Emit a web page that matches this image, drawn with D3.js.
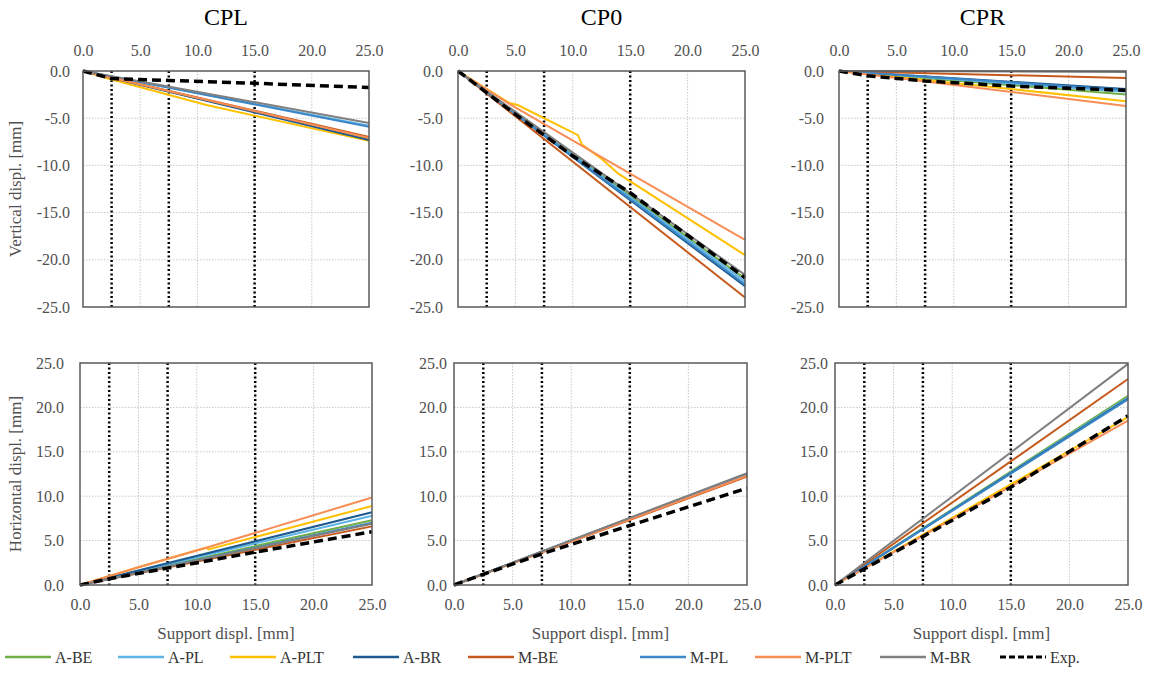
<!DOCTYPE html>
<html>
<head>
<meta charset="utf-8">
<script src="https://cdn.jsdelivr.net/npm/d3@7"></script>
<style>
  body { margin: 0; background: #fff; }
  text { font-family: "Liberation Serif", "Times New Roman", serif; }
</style>
</head>
<body>
<svg id="chart" width="1152" height="696"></svg>
<script>
// legend order, also drawing order
const seriesNames = ["A-BE", "A-PL", "A-PLT", "A-BR", "M-BE", "M-PL", "M-PLT", "M-BR", "Exp."];
const seriesColors = ["#70ad47", "#5cb3e6", "#ffc000", "#1f5a8f", "#c55a1c", "#3b87c8", "#f88d55", "#7f7f7f", "#000000"];

const panelTitles = ["CPL", "CP0", "CPR"];
const xTicks = [0, 5, 10, 15, 20, 25];
const vertTicks = [0, -5, -10, -15, -20, -25];
const horTicks = [0, 5, 10, 15, 20, 25];
const stageLines = [2.5, 7.5, 15];

// [support displ, displ] per series, legend order
const cplVertical = [
  [[0, 0], [25, -7.2]],
  [[0, 0], [25, -5.8]],
  [[0, 0], [2.5, -0.9], [10.8, -3.6], [25, -7.4]],
  [[0, 0], [25, -7.3]],
  [[0, 0], [25, -7.0]],
  [[0, 0], [25, -5.9]],
  [[0, 0], [25, -7.1]],
  [[0, 0], [25, -5.5]],
  [[0, 0], [2.5, -0.8], [7.5, -1.0], [15, -1.3], [25, -1.75]]
];
const cp0Vertical = [
  [[0, 0], [25, -22.0]],
  [[0, 0], [25, -22.3]],
  [[0, 0], [4.5, -3.4], [5.2, -3.6], [10.45, -6.8], [10.8, -7.8], [12.4, -9.2], [14, -10.9], [25, -19.5]],
  [[0, 0], [25, -22.8]],
  [[0, 0], [25, -24.0]],
  [[0, 0], [25, -22.6]],
  [[0, 0], [4.5, -3.5], [25, -17.9]],
  [[0, 0], [25, -21.6]],
  [[0, 0], [5, -4.6], [10, -9.0], [15, -12.9], [20, -17.4], [25, -21.9]]
];
const cprVertical = [
  [[0, 0], [25, -2.5]],
  [[0, 0], [25, -2.2]],
  [[0, 0], [25, -3.2]],
  [[0, 0], [25, -1.9]],
  [[0, 0], [25, -0.75]],
  [[0, 0], [25, -2.0]],
  [[0, 0], [25, -3.7]],
  [[0, 0], [25, -0.1]],
  [[0, 0], [2.5, -0.5], [7.5, -1.05], [15, -1.6], [25, -2.05]]
];
const cplHorizontal = [
  [[0, 0], [25, 7.3]],
  [[0, 0], [25, 7.8]],
  [[0, 0], [5, 2.0], [10.8, 4.2], [11, 4.0], [25, 8.9]],
  [[0, 0], [25, 8.2]],
  [[0, 0], [25, 6.6]],
  [[0, 0], [25, 7.0]],
  [[0, 0], [5, 2.0], [10.8, 4.2], [25, 9.85]],
  [[0, 0], [25, 6.9]],
  [[0, 0], [2.5, 0.7], [7.5, 1.9], [15, 3.7], [25, 6.0]]
];
const cp0Horizontal = [
  [[0, 0], [25, 12.4]],
  [[0, 0], [25, 12.5]],
  [[0, 0], [25, 12.4]],
  [[0, 0], [25, 12.5]],
  [[0, 0], [25, 12.2]],
  [[0, 0], [25, 12.5]],
  [[0, 0], [25, 12.3]],
  [[0, 0], [25, 12.6]],
  [[0, 0], [2.5, 1.2], [7.5, 3.5], [15, 6.7], [25, 10.9]]
];
const cprHorizontal = [
  [[0, 0], [25, 21.3]],
  [[0, 0], [25, 21.1]],
  [[0, 0], [25, 18.9]],
  [[0, 0], [25, 21.0]],
  [[0, 0], [25, 23.2]],
  [[0, 0], [25, 20.9]],
  [[0, 0], [25, 18.5]],
  [[0, 0], [25, 24.9]],
  [[0, 0], [7.5, 5.45], [15, 11.0], [25, 19.05]]
];

const svg = d3.select("#chart");
const textColor = "#505050";
const fmt = d => d.toFixed(1);

const panels = [
  {data: cplVertical, col: 0, top: true, x0: 83, x1: 369, y0: 71, y1: 307, pad: 13},
  {data: cp0Vertical, col: 1, top: true, x0: 458, x1: 745, y0: 71, y1: 307, pad: 15},
  {data: cprVertical, col: 2, top: true, x0: 839, x1: 1126, y0: 71, y1: 307, pad: 15},
  {data: cplHorizontal, col: 0, top: false, x0: 80, x1: 372, y0: 363, y1: 585, pad: 16},
  {data: cp0Horizontal, col: 1, top: false, x0: 454, x1: 747, y0: 363, y1: 585, pad: 7},
  {data: cprHorizontal, col: 2, top: false, x0: 835, x1: 1128, y0: 363, y1: 585, pad: 7}
];

panels.forEach(p => {
  let x = d3.scaleLinear().domain([0, 25]).range([p.x0, p.x1]);
  let yTicks = p.top ? vertTicks : horTicks;
  let y = d3.scaleLinear().domain(p.top ? [-25, 0] : [0, 25]).range([p.y1, p.y0]);
  let g = svg.append("g");

  // light dotted grid
  g.selectAll(".gx").data(xTicks.slice(1, -1)).enter().append("line")
    .attr("x1", d => x(d)).attr("x2", d => x(d))
    .attr("y1", p.y0).attr("y2", p.y1)
    .attr("stroke", "#c8c8c8").attr("stroke-width", 1).attr("stroke-dasharray", "1.5,1.5");
  g.selectAll(".gy").data(yTicks.slice(1, -1)).enter().append("line")
    .attr("x1", p.x0).attr("x2", p.x1)
    .attr("y1", d => y(d)).attr("y2", d => y(d))
    .attr("stroke", "#c8c8c8").attr("stroke-width", 1).attr("stroke-dasharray", "1.5,1.5");

  // load stage markers
  g.selectAll(".stage").data(stageLines).enter().append("line")
    .attr("x1", d => x(d)).attr("x2", d => x(d))
    .attr("y1", p.y0).attr("y2", p.y1)
    .attr("stroke", "#000").attr("stroke-width", 2.5).attr("stroke-dasharray", "2,2.5");

  // series
  let line = d3.line().x(d => x(d[0])).y(d => y(d[1]));
  p.data.forEach((pts, i) => {
    let isExp = i === seriesNames.length - 1;
    g.append("path")
      .attr("d", line(pts))
      .attr("fill", "none")
      .attr("stroke", seriesColors[i])
      .attr("stroke-width", isExp ? 3.5 : 2)
      .attr("stroke-dasharray", isExp ? "9,5" : null);
  });

  // frame
  g.append("rect")
    .attr("x", p.x0).attr("y", p.y0)
    .attr("width", p.x1 - p.x0).attr("height", p.y1 - p.y0)
    .attr("fill", "none").attr("stroke", "#595959").attr("stroke-width", 1.5);

  // axes
  let xAxis = p.top ? d3.axisTop(x) : d3.axisBottom(x);
  xAxis.tickValues(xTicks).tickSize(0).tickPadding(p.top ? 15 : 14).tickFormat(fmt);
  let gx = g.append("g")
    .attr("transform", "translate(0," + (p.top ? p.y0 : p.y1) + ")")
    .call(xAxis);
  let yAxis = d3.axisLeft(y).tickValues(yTicks).tickSize(0).tickPadding(p.pad).tickFormat(fmt);
  let gy = g.append("g")
    .attr("transform", "translate(" + p.x0 + ",0)")
    .call(yAxis);
  [gx, gy].forEach(a => {
    a.select(".domain").remove();
    a.selectAll("text").attr("fill", textColor).style("font-size", "16px")
      .style("font-family", "'Liberation Serif', serif");
  });

  if (p.top) {
    svg.append("text")
      .attr("x", (p.x0 + p.x1) / 2).attr("y", 25)
      .attr("text-anchor", "middle")
      .style("font-size", "24px").attr("fill", "#000")
      .text(panelTitles[p.col]);
  } else {
    svg.append("text")
      .attr("x", (p.x0 + p.x1) / 2).attr("y", 639)
      .attr("text-anchor", "middle")
      .style("font-size", "17px").attr("fill", textColor)
      .text("Support displ. [mm]");
  }

  if (p.col === 0) {
    svg.append("text")
      .attr("transform", "translate(21," + (p.y0 + p.y1) / 2 + ") rotate(-90)")
      .attr("text-anchor", "middle")
      .style("font-size", "17px").attr("fill", textColor)
      .text(p.top ? "Vertical displ. [mm]" : "Horizontal displ. [mm]");
  }
});

// legend
const legendX = [5, 118, 230, 353, 468, 640, 755, 880, 1000];
const legend = svg.append("g").attr("transform", "translate(0,657)");
seriesNames.forEach((name, i) => {
  let isExp = i === seriesNames.length - 1;
  legend.append("line")
    .attr("x1", legendX[i]).attr("x2", legendX[i] + 46)
    .attr("y1", 0).attr("y2", 0)
    .attr("stroke", seriesColors[i])
    .attr("stroke-width", isExp ? 3 : 2.5)
    .attr("stroke-dasharray", isExp ? "6,3" : null);
  legend.append("text")
    .attr("x", legendX[i] + 50).attr("y", 5.5)
    .style("font-size", "16px").attr("fill", "#333")
    .text(name);
});
</script>
</body>
</html>
